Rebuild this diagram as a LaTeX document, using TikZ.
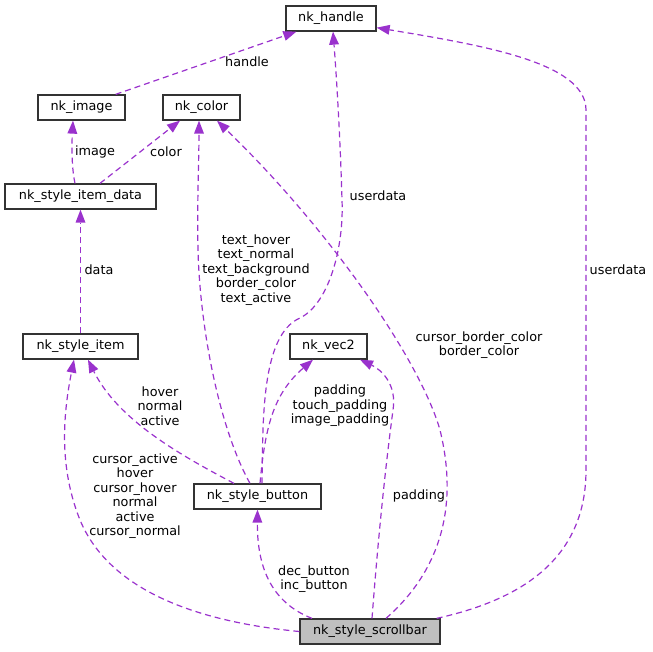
\documentclass[tikz,border=0pt]{standalone}
\usepackage{fontspec}
\setmainfont{DejaVu Sans}
\usetikzlibrary{arrows.meta}
\definecolor{edgecol}{HTML}{9A32CD}
\definecolor{boxline}{HTML}{333333}
\definecolor{hilite}{HTML}{BFBFBF}
\tikzset{
  cls/.style={draw=boxline, line width=1.3pt, fill=white, minimum height=25pt, inner sep=0pt, font=\fontsize{12.8}{14.5}\selectfont},
  edge/.style={draw=edgecol, line width=1.2pt, dash pattern=on 6pt off 4pt, -{Triangle[length=13pt,width=10pt,fill=edgecol,line width=0pt]}},
  lbl/.style={inner sep=0pt, align=center, font=\fontsize{12.8}{14.5}\selectfont}
}
\begin{document}
\begin{tikzpicture}[x=1pt,y=-1pt]
\useasboundingbox (0,0) rectangle (653,651);
% nodes
\node[cls, minimum width=90pt]  (handle) at (331,18.5) {nk\_handle};
\node[cls, minimum width=87pt]  (image)  at (81.5,107.5) {nk\_image};
\node[cls, minimum width=77pt]  (color)  at (201.5,107.5) {nk\_color};
\node[cls, minimum width=151pt] (idata)  at (80.5,196.5) {nk\_style\_item\_data};
\node[cls, minimum width=115pt] (item)   at (80.5,346.5) {nk\_style\_item};
\node[cls, minimum width=77pt]  (vec)    at (328.5,346.5) {nk\_vec2};
\node[cls, minimum width=127pt] (button) at (257.5,496.5) {nk\_style\_button};
\node[cls, minimum width=140pt, fill=hilite] (scroll) at (370,631.5) {nk\_style\_scrollbar};

% edges
\draw[edge] ([xshift=-10pt]image.north east) -- ([xshift=11pt]handle.south west);
\draw[edge] ([xshift=-5.5pt]idata.north) .. controls (71,165) and (72,140) .. ([xshift=-8.5pt]image.south);
\draw[edge] ([xshift=19.5pt]idata.north) -- ([xshift=-21.5pt]color.south);
\draw[edge] (item.north) -- (idata.south);
\draw[edge] ([xshift=4.5pt]button.north) .. controls (263,420) and (261,335) .. (300,318)
  .. controls (330,303) and (344,245) .. (342,200) .. controls (340,130) and (336,70) .. ([xshift=2pt]handle.south);
\draw[edge] ([xshift=-7.5pt]button.north) .. controls (220,430) and (200,330) .. (198,250)
  .. controls (197,200) and (199,160) .. ([xshift=-2.5pt]color.south);
\draw[edge] ([xshift=-23.5pt]button.north) .. controls (180,455) and (118,420) .. ([xshift=7.5pt]item.south);
\draw[edge] ([xshift=2.5pt]button.north) .. controls (265,430) and (272,395) .. ([xshift=-15.5pt]vec.south);
\draw[edge] (scroll.west) .. controls (200,622) and (110,592) .. (80,520)
  .. controls (60,470) and (62,420) .. ([xshift=-6.5pt]item.south);
\draw[edge] ([xshift=-58pt]scroll.north) .. controls (270,602) and (257,565) .. (button.south);
\draw[edge] ([xshift=2pt]scroll.north) .. controls (378,540) and (385,470) .. (393,410)
  .. controls (397,385) and (382,370) .. ([xshift=31.5pt]vec.south);
\draw[edge] ([xshift=16pt]scroll.north) .. controls (430,580) and (462,520) .. (440,430)
  .. controls (420,360) and (330,230) .. ([xshift=15.5pt]color.south);
\draw[edge] ([xshift=-4pt]scroll.north east) .. controls (520,600) and (586,560) .. (586,470)
  -- (586,110) .. controls (586,62) and (480,45) .. ([yshift=4pt]handle.south east);

% labels
\node[lbl] (l1) at (247,62) {handle};
\node[lbl] (l2) at (95,152) {image};
\node[lbl] (l3) at (166,152) {color};
\node[lbl] (l4) at (99,270) {data};
\node[lbl] (l5) at (378,196) {userdata};
\node[lbl] (l6) at (256,270) {text\_hover\\text\_normal\\text\_background\\border\_color\\text\_active};
\node[lbl] (l7) at (160,406) {hover\\normal\\active};
\node[lbl] (l8) at (340,406) {padding\\touch\_padding\\image\_padding};
\node[lbl] (l9) at (135,496) {cursor\_active\\hover\\cursor\_hover\\normal\\active\\cursor\_normal};
\node[lbl] (l10) at (314,579) {dec\_button\\inc\_button};
\node[lbl] (l11) at (419,496) {padding};
\node[lbl] (l12) at (479,345) {cursor\_border\_color\\border\_color};
\node[lbl] (l13) at (618,270) {userdata};
\end{tikzpicture}
\end{document}
